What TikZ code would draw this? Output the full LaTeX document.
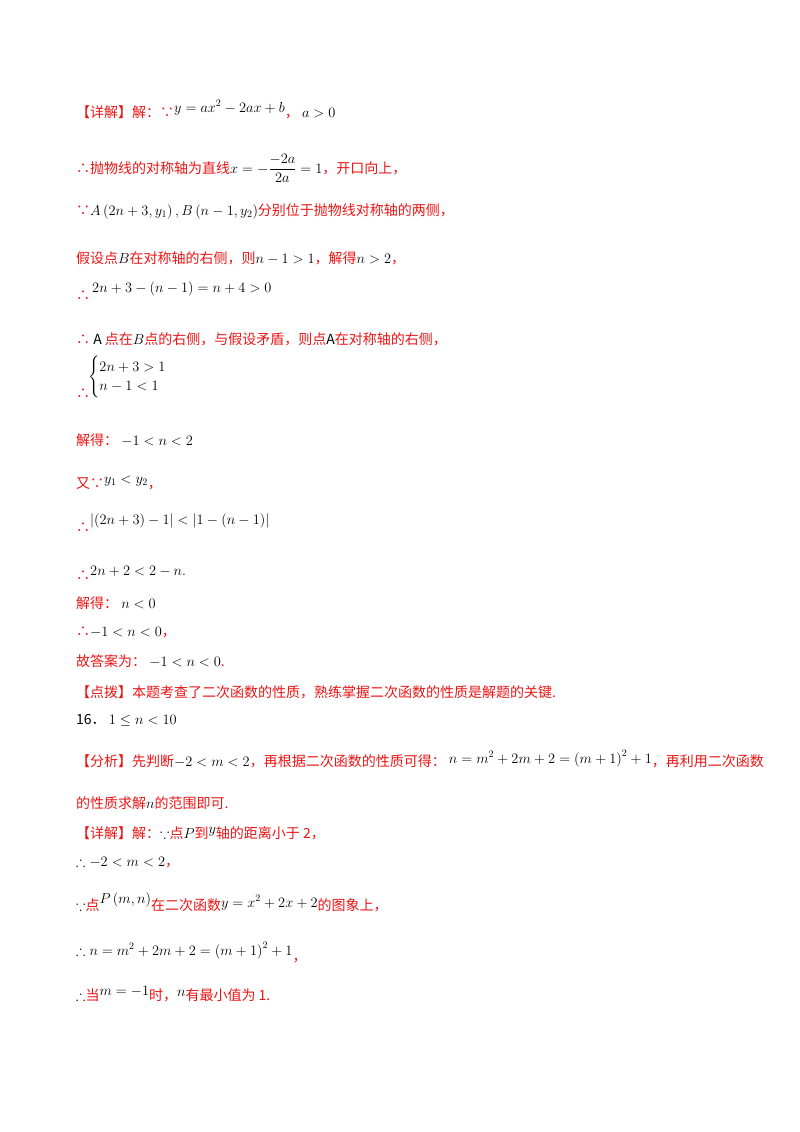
\documentclass[tikz,border=0pt]{standalone}
\usepackage{amsmath,amssymb}
\usepackage{fontspec}
\newfontfamily\cjk{Noto Sans CJK SC}
\definecolor{rd}{RGB}{235,20,20}
\newcommand{\K}[1]{\textcolor{black}{$#1$}}
\begin{document}
\begin{tikzpicture}[x=1pt,y=-1pt,
 ln/.style={anchor=base west,inner sep=0pt,text=rd,font=\cjk\fontsize{14}{16}\selectfont}]
\useasboundingbox (0,0) rectangle (800,1132);
\node[ln] (l1) at (76,117) {【详解】解：∵\raisebox{5pt}{\K{y=ax^2-2ax+b}}，\ \K{a>0}};
\node[ln] (l2) at (76,173) {∴抛物线的对称轴为直线\K{x=-\dfrac{-2a}{2a}=1}，开口向上，};
\node[ln] (l3) at (76,215) {∵\K{A\left(2n+3,y_1\right),B\left(n-1,y_2\right)}分别位于抛物线对称轴的两侧，};
\node[ln] (l4) at (76,263) {假设点\K{B}在对称轴的右侧，则\K{n-1>1}，解得\K{n>2}，};
\node[ln] (l5) at (76,300) {∴};
\node[ln] (l5m) at (92,292) {\K{2n+3-\left(n-1\right)=n+4>0}};
\node[ln] (l6) at (76,344) {∴ \textcolor{black}{A} 点在\K{B}点的右侧，与假设矛盾，则点\textcolor{black}{A}在对称轴的右侧，};
\node[ln] (l7) at (76,398) {∴};
\node[ln] (l7m) at (88,381) {\K{\begin{cases}2n+3>1\\ n-1<1\end{cases}}};
\node[ln] (l8) at (76,445) {解得：\ \K{-1<n<2}};
\node[ln] (l9) at (76,488) {又∵\raisebox{5pt}{\K{y_1<y_2}}，};
\node[ln] (l10) at (76,532) {∴};
\node[ln] (l10m) at (90,524) {\K{\left|\left(2n+3\right)-1\right|<\left|1-\left(n-1\right)\right|}};
\node[ln] (l11) at (76,580) {∴};
\node[ln] (l11m) at (90,575) {\K{2n+2<2-n.}};
\node[ln] (l12) at (76,608) {解得：\ \K{n<0}};
\node[ln] (l13) at (76,636) {∴\K{-1<n<0}，};
\node[ln] (l14) at (76,666) {故答案为：\ \K{-1<n<0}.};
\node[ln] (l15) at (76,697) {【点拨】本题考查了二次函数的性质，熟练掌握二次函数的性质是解题的关键.};
\node[ln,text=black] (l16) at (76,724) {16．\ $1\le n<10$};
\node[ln] (l17) at (76,766) {【分析】先判断\K{-2<m<2}，再根据二次函数的性质可得：\ \raisebox{3pt}{\K{n=m^2+2m+2=\left(m+1\right)^2+1}}，再利用二次函数};
\node[ln] (l18) at (76,808) {的性质求解\K{n}的范围即可.};
\node[ln] (l19) at (76,838) {【详解】解：\textcolor{black}{$\because$}点\K{P}到\raisebox{5pt}{\K{y}}轴的距离小于 2，};
\node[ln] (l20) at (76,866) {\textcolor{black}{$\therefore -2<m<2$}，};
\node[ln] (l21) at (76,910) {\textcolor{black}{$\because$}点\raisebox{7pt}{\K{P\left(m,n\right)}}在二次函数\raisebox{3pt}{\K{y=x^2+2x+2}}的图象上，};
\node[ln] (l22) at (76,955) {\textcolor{black}{$\therefore n=m^2+2m+2=\left(m+1\right)^2+1$}\raisebox{-6pt}{，}};
\node[ln] (l23) at (76,1000) {\textcolor{black}{$\therefore$}当\raisebox{5pt}{\K{m=-1}}时，\raisebox{4pt}{\K{n}}有最小值为 1.};
\end{tikzpicture}
\end{document}
